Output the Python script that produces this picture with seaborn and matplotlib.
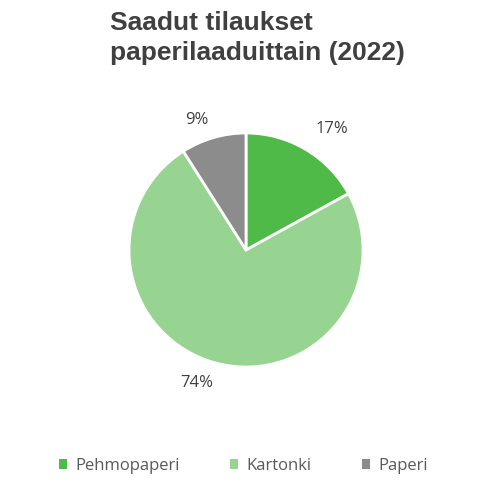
import matplotlib
matplotlib.use("Agg")
import matplotlib.pyplot as plt
import seaborn as sns
from matplotlib.patches import Patch

categories = ["Pehmopaperi", "Kartonki", "Paperi"]
values = [17, 74, 9]
colors = ["#4fba48", "#97d491", "#8c8c8c"]
title = "Saadut tilaukset\npaperilaaduittain (2022)"

sns.set_theme(style="white")
plt.rcParams['font.family'] = ['Liberation Sans', 'DejaVu Sans']

W, H = 499, 498
fig = plt.figure(figsize=(W / 100, H / 100), dpi=100)
cx, cy, r = 246, 250, 117
ax = fig.add_axes([(cx - r) / W, 1 - (cy + r) / H, 2 * r / W, 2 * r / H])

wedges, texts, autotexts = ax.pie(
    values, colors=colors, startangle=90, counterclock=False,
    autopct=lambda p: f"{p:.0f}%", pctdistance=1.22,
    wedgeprops=dict(edgecolor="white", linewidth=2),
    textprops=dict(color="#404040", fontsize=12, family=['Open Sans', 'DejaVu Sans']),
)
# label placement (outside end, like the original)
label_layout = [(0.735, 1.03), (-0.42, -1.14), (-0.42, 1.11)]
for t, (lx, ly) in zip(autotexts, label_layout):
    t.set_position((lx, ly))
ax.set_xlim(-1, 1)
ax.set_ylim(-1, 1)
ax.set_aspect("auto")
ax.axis("off")

fig.text(110 / W, 1 - 11 / H, title, ha="left", va="top", fontsize=19,
         fontweight="bold", color="#404040", linespacing=1.33)

handles = [Patch(facecolor=c, edgecolor="none") for c in colors]
fig.legend(handles, categories, loc="center", bbox_to_anchor=(0.488, 1 - 466 / H),
           ncol=3, frameon=False, handlelength=0.5, handleheight=0.5,
           columnspacing=3.0, handletextpad=0.5,
           prop=dict(size=12, family=['Open Sans', 'DejaVu Sans']), labelcolor="#595959")

fig.savefig("out.png", dpi=100)
